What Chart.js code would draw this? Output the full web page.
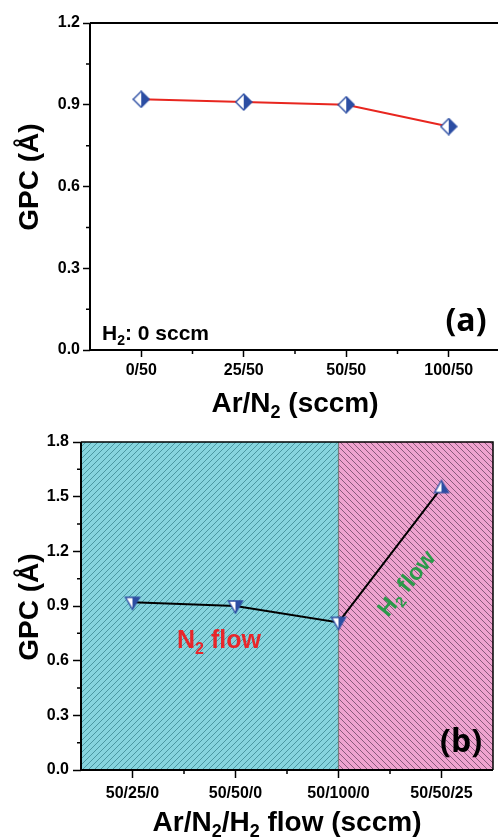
<!DOCTYPE html>
<html>
<head>
<meta charset="utf-8">
<script src="https://cdn.jsdelivr.net/npm/chart.js@4.4.0/dist/chart.umd.min.js"></script>
<style>
  html, body { margin: 0; padding: 0; background: #fff; overflow: hidden; }
  #wrapA { position: absolute; left: 0; top: 0; width: 502px; height: 420px; }
  #wrapB { position: absolute; left: 0; top: 420px; width: 498px; height: 417px; }
</style>
</head>
<body>
<div id="wrapA"><canvas id="chartA"></canvas></div>
<div id="wrapB"><canvas id="chartB"></canvas></div>
<script>
// (a) H2: 0 sccm
var arN2Labels = ['0/50', '25/50', '50/50', '100/50'];
var arN2Gpc = [0.92, 0.91, 0.90, 0.82];
var gpcTicksA = [0, 0.3, 0.6, 0.9, 1.2];

// (b) N2 flow -> H2 flow
var flowLabels = ['50/25/0', '50/50/0', '50/100/0', '50/50/25'];
var flowGpc = [0.92, 0.90, 0.81, 1.55];
var gpcTicksB = [0, 0.3, 0.6, 0.9, 1.2, 1.5, 1.8];
var h2StartIndex = 2; // N2 領域の終わり / H2 領域の始まり

var FONT = "'Liberation Sans', Arial, sans-serif";
var BLUE = '#2c4ea3';

// 半分塗りのマーカー（左白・右青）
function halfMarker(shape) {
  var c = document.createElement('canvas');
  c.width = 18; c.height = 18;
  var g = c.getContext('2d');
  var pts;
  if (shape === 'diamond') pts = [[9, 1], [17, 9], [9, 17], [1, 9]];
  else if (shape === 'down') pts = [[2, 4], [16, 4], [9, 16]];
  else pts = [[9, 2], [16, 14], [2, 14]];
  function path() {
    g.beginPath();
    g.moveTo(pts[0][0], pts[0][1]);
    for (var i = 1; i < pts.length; i++) g.lineTo(pts[i][0], pts[i][1]);
    g.closePath();
  }
  path(); g.fillStyle = '#fff'; g.fill();
  g.save();
  g.beginPath(); g.rect(9, 0, 9, 18); g.clip();
  path(); g.fillStyle = BLUE; g.fill();
  g.restore();
  path(); g.strokeStyle = BLUE; g.lineWidth = 1.4; g.stroke();
  return c;
}

// 斜線ハッチ
function hatch(bg, line, dir) {
  var s = 6;
  var c = document.createElement('canvas');
  c.width = s; c.height = s;
  var g = c.getContext('2d');
  g.fillStyle = bg; g.fillRect(0, 0, s, s);
  g.strokeStyle = line; g.lineWidth = 1;
  g.beginPath();
  if (dir === '/') {
    g.moveTo(0, s); g.lineTo(s, 0);
    g.moveTo(-1, 1); g.lineTo(1, -1);
    g.moveTo(s - 1, s + 1); g.lineTo(s + 1, s - 1);
  } else {
    g.moveTo(0, 0); g.lineTo(s, s);
    g.moveTo(-1, s - 1); g.lineTo(1, s + 1);
    g.moveTo(s - 1, -1); g.lineTo(s + 1, 1);
  }
  g.stroke();
  return g.createPattern(c, 'repeat');
}

// 下付き文字を含むテキスト
function drawRich(ctx, parts, x, y, size, color, align) {
  ctx.save();
  ctx.fillStyle = color;
  ctx.textBaseline = 'alphabetic';
  var total = 0;
  parts.forEach(function(p) {
    ctx.font = 'bold ' + (p.sub ? Math.round(size * 0.65) : size) + 'px ' + FONT;
    p.w = ctx.measureText(p.t).width;
    total += p.w;
  });
  var cx = align === 'center' ? x - total / 2 : x;
  parts.forEach(function(p) {
    ctx.font = 'bold ' + (p.sub ? Math.round(size * 0.65) : size) + 'px ' + FONT;
    ctx.fillText(p.t, cx, p.sub ? y + size * 0.22 : y);
    cx += p.w;
  });
  ctx.restore();
}

function drawFrame(chart, widthLB, widthTR) {
  var a = chart.chartArea, ctx = chart.ctx;
  ctx.save();
  ctx.strokeStyle = '#000';
  ctx.lineWidth = widthTR;
  ctx.beginPath();
  ctx.moveTo(a.left, a.top); ctx.lineTo(a.right, a.top); ctx.lineTo(a.right, a.bottom);
  ctx.stroke();
  ctx.lineWidth = widthLB;
  ctx.beginPath();
  ctx.moveTo(a.left, a.top); ctx.lineTo(a.left, a.bottom); ctx.lineTo(a.right, a.bottom);
  ctx.stroke();
  ctx.restore();
}

function drawMinorTicks(chart, ticksY) {
  var ctx = chart.ctx, xs = chart.scales.x, ys = chart.scales.y, a = chart.chartArea;
  ctx.save();
  ctx.strokeStyle = '#000';
  ctx.lineWidth = 1.5;
  ctx.beginPath();
  for (var i = 0; i < ticksY.length - 1; i++) {
    var py = ys.getPixelForValue((ticksY[i] + ticksY[i + 1]) / 2);
    ctx.moveTo(a.left, py); ctx.lineTo(a.left - 4, py);
  }
  var n = chart.data.labels.length;
  for (var j = 0; j < n - 1; j++) {
    var px = xs.getPixelForValue(j + 0.5);
    ctx.moveTo(px, a.bottom); ctx.lineTo(px, a.bottom + 4);
  }
  ctx.stroke();
  ctx.restore();
}

function yTitle(ctx, x, y) {
  ctx.save();
  ctx.translate(x, y);
  ctx.rotate(-Math.PI / 2);
  drawRich(ctx, [{ t: 'GPC (Å)' }], 0, 10, 28, '#000', 'center');
  ctx.restore();
}

function axisOpts(ticksList, tickLen, pad, fitW) {
  return {
    min: ticksList[0],
    max: ticksList[ticksList.length - 1],
    afterBuildTicks: function(s) { s.ticks = ticksList.map(function(v) { return { value: v }; }); },
    grid: { drawOnChartArea: false, tickLength: tickLen, tickColor: '#000', tickWidth: 1.5 },
    border: { display: false },
    ticks: {
      color: '#000', padding: pad,
      font: { family: FONT, size: 16, weight: 'bold' },
      callback: function(v) { return Number(v).toFixed(1); }
    },
    afterFit: function(s) { s.width = fitW; }
  };
}

function xOpts(tickLen, pad, fitH) {
  return {
    offset: true,
    grid: { offset: false, drawOnChartArea: false, tickLength: tickLen, tickColor: '#000', tickWidth: 1.5 },
    border: { display: false },
    ticks: {
      color: '#000', padding: pad, maxRotation: 0, autoSkip: false,
      font: { family: FONT, size: 16, weight: 'bold' }
    },
    afterFit: function(s) {
      s.height = fitH;
      s.paddingLeft = 0;
      s.paddingRight = 0;
    }
  };
}

var decorA = {
  id: 'decorA',
  beforeDatasetsDraw: function(chart) { drawFrame(chart, 2, 2); },
  afterDraw: function(chart) {
    var ctx = chart.ctx;
    drawMinorTicks(chart, gpcTicksA);
    yTitle(ctx, 28, 177);
    drawRich(ctx, [{ t: 'Ar/N' }, { t: '2', sub: true }, { t: ' (sccm)' }], 295, 412, 28, '#000', 'center');
    drawRich(ctx, [{ t: 'H' }, { t: '2', sub: true }, { t: ': 0 sccm' }], 102, 340, 21, '#000', 'left');
    ctx.save();
    ctx.font = "bold 32px 'Open Sans', sans-serif";
    ctx.fillStyle = '#000';
    ctx.textAlign = 'center';
    ctx.textBaseline = 'middle';
    ctx.fillText('(a)', 466, 322);
    ctx.restore();
  }
};

var decorB = {
  id: 'decorB',
  beforeDatasetsDraw: function(chart) {
    var ctx = chart.ctx, a = chart.chartArea;
    var split = chart.scales.x.getPixelForValue(h2StartIndex);
    ctx.save();
    ctx.fillStyle = hatch('#86d4de', '#4a97a1', '/');
    ctx.fillRect(a.left, a.top, split - a.left, a.bottom - a.top);
    ctx.fillStyle = hatch('#efa3cf', '#8a5a7c', '\\');
    ctx.fillRect(split, a.top, a.right - split, a.bottom - a.top);
    ctx.strokeStyle = '#7a7a7a';
    ctx.lineWidth = 1.2;
    ctx.beginPath(); ctx.moveTo(split, a.top); ctx.lineTo(split, a.bottom); ctx.stroke();
    ctx.restore();
    drawFrame(chart, 2, 1.5);
  },
  afterDraw: function(chart) {
    var ctx = chart.ctx;
    drawMinorTicks(chart, gpcTicksB);
    yTitle(ctx, 28, 187);
    drawRich(ctx, [{ t: 'Ar/N' }, { t: '2', sub: true }, { t: '/H' }, { t: '2', sub: true }, { t: ' flow (sccm)' }], 287, 411, 28, '#000', 'center');
    drawRich(ctx, [{ t: 'N' }, { t: '2', sub: true }, { t: ' flow' }], 177, 228, 25, '#e8262a', 'left');
    ctx.save();
    ctx.translate(406, 163);
    ctx.rotate(-51 * Math.PI / 180);
    drawRich(ctx, [{ t: 'H' }, { t: '2', sub: true }, { t: ' flow' }], 0, 8, 23, '#2b9a4a', 'center');
    ctx.restore();
    ctx.save();
    ctx.font = "bold 32px 'Open Sans', sans-serif";
    ctx.fillStyle = '#000';
    ctx.textAlign = 'center';
    ctx.textBaseline = 'middle';
    ctx.fillText('(b)', 461, 323);
    ctx.restore();
  }
};

var diamond = halfMarker('diamond');
var triDown = halfMarker('down');
var triUp = halfMarker('up');

new Chart(document.getElementById('chartA'), {
  type: 'line',
  data: {
    labels: arN2Labels,
    datasets: [{
      data: arN2Gpc,
      borderColor: '#e8261f',
      borderWidth: 2,
      tension: 0,
      pointStyle: diamond,
      pointRadius: 9
    }]
  },
  options: {
    responsive: true,
    maintainAspectRatio: false,
    animation: false,
    layout: { autoPadding: false, padding: { top: 23, right: 2, left: 0, bottom: 0 } },
    plugins: { legend: { display: false }, tooltip: { enabled: false } },
    scales: {
      x: xOpts(7, 4, 70),
      y: axisOpts(gpcTicksA, 7, 3, 90)
    }
  },
  plugins: [decorA]
});

new Chart(document.getElementById('chartB'), {
  type: 'line',
  data: {
    labels: flowLabels,
    datasets: [{
      data: flowGpc,
      borderColor: '#000',
      borderWidth: 2,
      tension: 0,
      pointStyle: [triDown, triDown, triDown, triUp],
      pointRadius: 8
    }]
  },
  options: {
    responsive: true,
    maintainAspectRatio: false,
    animation: false,
    layout: { autoPadding: false, padding: { top: 22, right: 5, left: 0, bottom: 0 } },
    plugins: { legend: { display: false }, tooltip: { enabled: false } },
    scales: {
      x: xOpts(8, 6, 67),
      y: axisOpts(gpcTicksB, 8, 4, 81)
    }
  },
  plugins: [decorB]
});
</script>
</body>
</html>
